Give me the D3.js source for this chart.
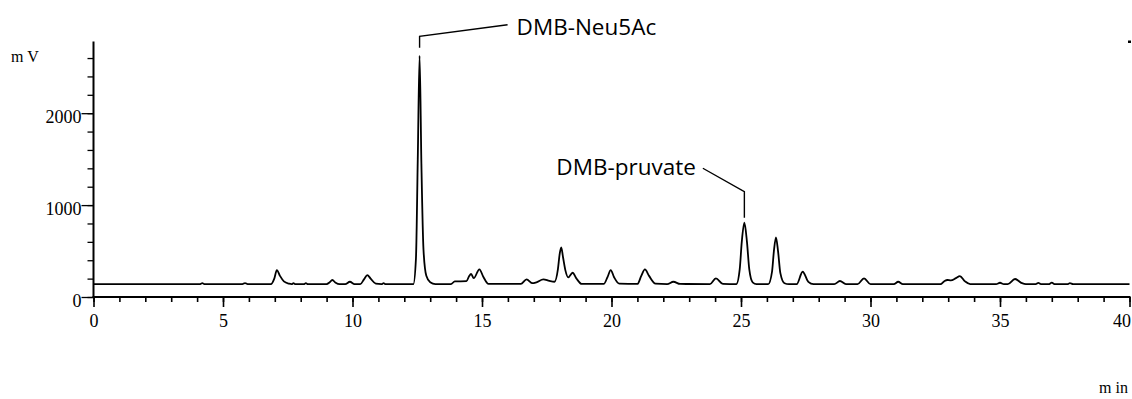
<!DOCTYPE html>
<html>
<head>
<meta charset="utf-8">
<script src="https://cdn.jsdelivr.net/npm/d3@7/dist/d3.min.js"></script>
<style>
  html, body { margin: 0; padding: 0; background: #fff; }
  svg { display: block; }
  .tick text { font-family: "Liberation Serif", "DejaVu Serif", serif; font-size: 18px; fill: #000; }
  .axis path, .axis line { stroke: #000; }
</style>
</head>
<body>
<svg id="chart" width="1132" height="399"></svg>
<script>
// Chromatogram trace: retention time (min) and detector response (mV)
const timeMin = [
  0, 4.1, 4.2, 4.3, 5.75, 5.85, 5.95,
  6.85, 6.98, 7.08, 7.2, 7.35, 7.55,
  7.65, 7.72, 7.8, 8.12, 8.2, 8.28,
  9.0, 9.12, 9.22, 9.35, 9.5,
  9.72, 9.9, 10.08,
  10.3, 10.45, 10.57, 10.7, 10.9,
  11.12, 11.2, 11.28,
  12.35, 12.45, 12.52, 12.59, 12.66, 12.74, 12.85, 13.0, 13.2,
  13.8, 13.95, 14.4, 14.5, 14.58, 14.68, 14.9, 15.05, 15.25,
  16.5, 16.72, 16.95, 17.1, 17.37, 17.6, 17.8,
  17.93, 18.0, 18.06, 18.13, 18.22, 18.33, 18.5, 18.65, 18.85,
  19.7, 19.85, 19.97, 20.1, 20.3,
  21.0, 21.15, 21.29, 21.45, 21.7,
  22.15, 22.39, 22.65,
  23.8, 24.03, 24.3,
  24.82, 24.95, 25.03, 25.13, 25.23, 25.32, 25.45, 25.6,
  26.05, 26.2, 26.27, 26.35, 26.43, 26.52, 26.68, 26.85,
  27.15, 27.38, 27.6, 27.8,
  28.6, 28.82, 29.05,
  29.5, 29.75, 30.0,
  30.9, 31.07, 31.25,
  32.7, 32.85, 32.97, 33.1, 33.3, 33.45, 33.65, 33.85,
  34.85, 35.0, 35.15,
  35.3, 35.58, 35.85, 36.0,
  36.38, 36.48, 36.58,
  36.88, 37.0, 37.12,
  37.6, 37.7, 37.82,
  40
];
const responseMv = [
  140, 140, 150, 140, 140, 152, 140,
  140, 200, 293, 230, 170, 145,
  140, 150, 140, 140, 150, 140,
  140, 160, 185, 155, 140,
  140, 166, 140,
  140, 195, 239, 200, 145,
  140, 150, 140,
  140, 420, 1500, 2625, 1450, 520, 230, 160, 140,
  140, 170, 172, 225, 250, 205, 301, 220, 142,
  142, 192, 150, 160, 192, 175, 166,
  300, 470, 540, 430, 290, 214, 264, 200, 142,
  142, 220, 293, 215, 145,
  142, 230, 300, 230, 145,
  140, 166, 142,
  140, 203, 142,
  140, 300, 600, 808, 600, 300, 160, 140,
  140, 280, 500, 649, 500, 260, 150, 140,
  140, 275, 165, 140,
  140, 174, 140,
  140, 203, 140,
  140, 166, 140,
  140, 172, 185, 180, 205, 228, 170, 140,
  140, 155, 140,
  140, 196, 150, 140,
  140, 153, 140,
  140, 156, 140,
  140, 150, 140,
  140
];

// Axis ticks
const xMajorTicks = [0, 5, 10, 15, 20, 25, 30, 35, 40];
const xMinorTicks = d3.range(0, 41, 1);
const yMajorTicks = [0, 1000, 2000];
const yMinorTicks = d3.range(0, 2601, 200);

// Peak annotations
const peakNames = ["DMB-Neu5Ac", "DMB-pruvate"];
const peakTimes = [12.59, 25.13];
const peakHeights = [2625, 808];

const svg = d3.select("#chart");

const x = d3.scaleLinear().domain([0, 40]).range([93.5, 1129.5]);
const y = d3.scaleLinear().domain([0, 2780]).range([297, 41.5]);

// Y axis: minor ticks, then major ticks with labels
const yMinor = svg.append("g").attr("class", "axis")
  .attr("transform", `translate(${x(0)},0)`)
  .call(d3.axisLeft(y).tickValues(yMinorTicks).tickSize(6).tickFormat(""));
yMinor.select(".domain").remove();
yMinor.selectAll("line").attr("stroke-width", 1.3);

const yMajor = svg.append("g").attr("class", "axis")
  .attr("transform", `translate(${x(0)},0)`)
  .call(d3.axisLeft(y).tickValues(yMajorTicks).tickSize(12).tickPadding(0).tickFormat(d3.format("d")));
yMajor.select(".domain").remove();
yMajor.selectAll("line").attr("stroke-width", 1.3);
yMajor.selectAll("text").attr("dy", "0.52em");

// X axis
const xMinor = svg.append("g").attr("class", "axis")
  .attr("transform", `translate(0,${y(0)})`)
  .call(d3.axisBottom(x).tickValues(xMinorTicks).tickSize(5).tickFormat(""));
xMinor.select(".domain").remove();
xMinor.selectAll("line").attr("stroke-width", 1.6);

const xMajor = svg.append("g").attr("class", "axis")
  .attr("transform", `translate(0,${y(0)})`)
  .call(d3.axisBottom(x).tickValues(xMajorTicks).tickSize(10).tickPadding(7).tickFormat(d3.format("d")));
xMajor.select(".domain").remove();
xMajor.selectAll("line").attr("stroke-width", 1.6);
// the last label sits flush against the right end of the axis
xMajor.selectAll(".tick text")
  .filter(d => d === 40)
  .attr("text-anchor", "end")
  .attr("x", 1);

// Axis lines
svg.append("line")
  .attr("x1", x(0)).attr("x2", x(0))
  .attr("y1", y(0) + 1).attr("y2", y(2780))
  .attr("stroke", "#000").attr("stroke-width", 2);
svg.append("line")
  .attr("x1", x(0) - 1).attr("x2", x(40) + 1)
  .attr("y1", y(0)).attr("y2", y(0))
  .attr("stroke", "#000").attr("stroke-width", 2);

// Top-right end marker
svg.append("rect")
  .attr("x", x(40) - 1.5).attr("y", y(2780) - 1)
  .attr("width", 3).attr("height", 2.5)
  .attr("fill", "#000");

// Axis unit labels
svg.append("text")
  .attr("x", 11).attr("y", 62)
  .attr("font-family", "Liberation Serif, serif")
  .attr("font-size", 16)
  .text("m V");
svg.append("text")
  .attr("x", 1099).attr("y", 393)
  .attr("font-family", "Liberation Serif, serif")
  .attr("font-size", 16)
  .text("m in");

// Trace
const trace = timeMin.map((t, i) => [t, responseMv[i]]);
svg.append("path")
  .datum(trace)
  .attr("fill", "none")
  .attr("stroke", "#000")
  .attr("stroke-width", 1.8)
  .attr("stroke-linejoin", "round")
  .attr("d", d3.line().x(d => x(d[0])).y(d => y(d[1])).curve(d3.curveMonotoneX));

// Peak labels with leader lines
const labelFont = "Open Sans, sans-serif";

// DMB-Neu5Ac: short riser above the peak, then a line running up to the label
{
  const px = x(peakTimes[0]), py = y(peakHeights[0]);
  const topY = py - 19.5;
  svg.append("path")
    .attr("d", `M${px},${py - 8}V${topY}L${px + 88},${topY - 11.5}`)
    .attr("fill", "none").attr("stroke", "#000").attr("stroke-width", 1.4);
  svg.append("text")
    .attr("x", px + 97).attr("y", 35)
    .attr("font-family", labelFont).attr("font-size", 22.5)
    .text(peakNames[0]);
}

// DMB-pruvate: label sits to the upper left, line drops to a riser above the peak
{
  const px = x(peakTimes[1]), py = y(peakHeights[1]);
  const riserTop = py - 31;
  svg.append("path")
    .attr("d", `M${px - 41.5},${riserTop - 23.5}L${px},${riserTop}V${py - 5}`)
    .attr("fill", "none").attr("stroke", "#000").attr("stroke-width", 1.4);
  svg.append("text")
    .attr("x", px - 188).attr("y", 175)
    .attr("font-family", labelFont).attr("font-size", 22.5)
    .text(peakNames[1]);
}
</script>
</body>
</html>
